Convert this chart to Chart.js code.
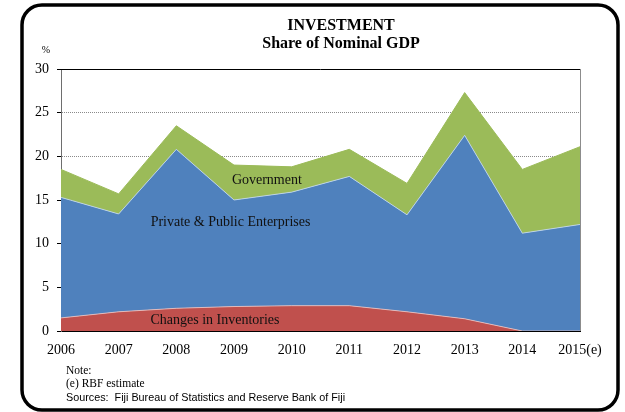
<!DOCTYPE html>
<html>
<head>
<meta charset="utf-8">
<script src="https://cdn.jsdelivr.net/npm/chart.js@4/dist/chart.umd.min.js"></script>
<style>
  html, body { margin: 0; padding: 0; background: #fff; }
  canvas { display: block; }
</style>
</head>
<body>
<canvas id="invChart" width="625" height="412"></canvas>
<script>
// ---- data ----
const years = ['2006', '2007', '2008', '2009', '2010', '2011', '2012', '2013', '2014', '2015(e)'];
const inventories = [1.5, 2.2, 2.6, 2.8, 2.9, 2.9, 2.2, 1.4, 0, 0];
const enterprises = [13.8, 11.2, 18.2, 12.2, 13.0, 14.8, 11.1, 21.0, 11.2, 12.2];
const government = [3.2, 2.3, 2.7, 4.0, 2.9, 3.1, 3.6, 4.9, 7.3, 8.9];
const yTicks = [0, 5, 10, 15, 20, 25, 30];

// in-chart area labels: [text, category index, value]
const areaLabels = [
  ['Government', 3.57, 17.3],
  ['Private & Public Enterprises', 2.94, 12.4],
  ['Changes in Inventories', 2.67, 1.24]
];

const SERIF = '"Liberation Serif", "Times New Roman", serif';

// frame, titles, notes and area labels
const decor = {
  id: 'decor',
  afterDatasetsDraw(chart) {
    const { ctx, chartArea: a, scales } = chart;
    ctx.save();
    // plot frame: top black, right grey
    ctx.lineWidth = 1;
    ctx.strokeStyle = '#000';
    ctx.beginPath();
    ctx.moveTo(a.left, a.top + 0.5);
    ctx.lineTo(a.right, a.top + 0.5);
    ctx.stroke();
    ctx.strokeStyle = '#8c8c8c';
    ctx.beginPath();
    ctx.moveTo(a.right + 0.5, a.top);
    ctx.lineTo(a.right + 0.5, a.bottom);
    ctx.stroke();

    ctx.fillStyle = '#111';
    ctx.font = '14px ' + SERIF;
    ctx.textAlign = 'center';
    ctx.textBaseline = 'middle';
    areaLabels.forEach(([t, i, v]) => {
      ctx.fillText(t, scales.x.getPixelForValue(i), scales.y.getPixelForValue(v));
    });
    ctx.restore();
  },
  afterDraw(chart) {
    const { ctx } = chart;
    ctx.save();
    // rounded outer box
    ctx.lineWidth = 3.5;
    ctx.strokeStyle = '#000';
    ctx.beginPath();
    ctx.roundRect(22, 5, 596, 405, 20);
    ctx.stroke();

    ctx.fillStyle = '#000';
    ctx.textAlign = 'center';
    ctx.textBaseline = 'middle';
    ctx.font = 'bold 16px ' + SERIF;
    ctx.fillText('INVESTMENT', 341, 26);
    ctx.fillText('Share of Nominal GDP', 341, 44);

    ctx.font = '10px ' + SERIF;
    ctx.fillText('%', 46, 50);

    ctx.textAlign = 'left';
    ctx.font = '11.5px ' + SERIF;
    ctx.fillText('Note:', 66, 371);
    ctx.fillText('(e) RBF estimate', 66, 384);
    ctx.font = '10.8px "Liberation Sans", Arial, sans-serif';
    ctx.fillText('Sources:  Fiji Bureau of Statistics and Reserve Bank of Fiji', 66, 398);
    ctx.restore();
  }
};

new Chart(document.getElementById('invChart'), {
  type: 'line',
  data: {
    labels: years,
    datasets: [
      {
        label: 'Changes in Inventories',
        data: inventories,
        backgroundColor: '#C0504D',
        borderColor: 'rgba(235,200,200,0.8)',
        borderWidth: 1,
        fill: 'origin'
      },
      {
        label: 'Private & Public Enterprises',
        data: enterprises,
        backgroundColor: '#4F81BD',
        borderColor: 'rgba(200,220,240,0.8)',
        borderWidth: 1,
        fill: '-1'
      },
      {
        label: 'Government',
        data: government,
        backgroundColor: '#9BBB59',
        borderColor: '#9BBB59',
        borderWidth: 1,
        fill: '-1'
      }
    ]
  },
  options: {
    responsive: false,
    animation: false,
    layout: { padding: { left: 21, right: 45, top: 69, bottom: 51 } },
    elements: { point: { radius: 0 }, line: { tension: 0 } },
    plugins: { legend: { display: false }, tooltip: { enabled: false } },
    scales: {
      x: {
        afterFit: s => { s.height = 30; },
        grid: { display: false },
        border: { display: true, color: '#000', width: 1 },
        ticks: {
          padding: 3,
          maxRotation: 0,
          autoSkip: false,
          color: '#000',
          font: { family: SERIF, size: 14 }
        }
      },
      y: {
        stacked: true,
        min: 0,
        max: 30,
        afterFit: s => { s.width = 40; },
        afterBuildTicks: s => { s.ticks = yTicks.map(v => ({ value: v })); },
        grid: {
          color: c => (c.tick && (c.tick.value === 0 || c.tick.value === 30)) ? 'rgba(0,0,0,0)' : '#8a8a8a',
          tickColor: '#000',
          tickLength: 4,
          lineWidth: 1
        },
        border: { display: true, color: '#6e6e6e', width: 1, dash: [1, 1] },
        ticks: {
          padding: 8,
          color: '#000',
          font: { family: SERIF, size: 14 }
        }
      }
    }
  },
  plugins: [decor]
});
</script>
</body>
</html>
